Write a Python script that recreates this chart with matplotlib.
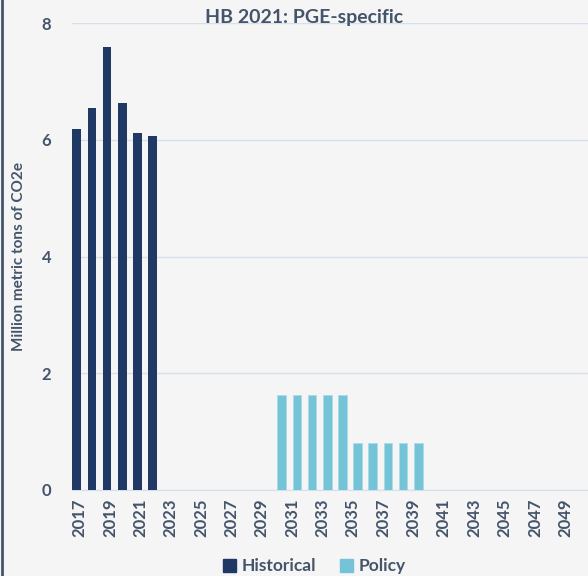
import numpy as np
import matplotlib.pyplot as plt
from matplotlib.patches import Patch

# data
years = list(range(2017, 2051))
hist_years = [2017, 2018, 2019, 2020, 2021, 2022]
hist_vals = [6.18, 6.54, 7.59, 6.63, 6.11, 6.06]
policy_years = [2030, 2031, 2032, 2033, 2034, 2035, 2036, 2037, 2038, 2039]
policy_vals = [1.63, 1.63, 1.63, 1.63, 1.63, 0.80, 0.80, 0.80, 0.80, 0.80]
tick_years = years[::2]

navy = "#203864"
light = "#74C3D7"
text_col = "#44546A"
bg = "#F5F5F5"

plt.rcParams['font.family'] = ['Lato', 'DejaVu Sans']

fig = plt.figure(figsize=(5.88, 5.76), dpi=100, facecolor=bg)
ax = fig.add_axes([72 / 588, 1 - 490 / 576, 1 - 72 / 588, 467 / 576])
ax.set_facecolor(bg)

idx = {y: i for i, y in enumerate(years)}
hx = np.array([idx[y] for y in hist_years])
px = np.array([idx[y] for y in policy_years])
ax.bar(hx - 0.19, hist_vals, width=0.57, color=navy, zorder=3)
ax.bar(px + 0.32, policy_vals, width=0.57, color=light, edgecolor="#A9DCE8",
       linewidth=0.6, zorder=3)

ax.set_xlim(-0.5, len(years) - 0.5)
ax.set_ylim(0, 8)
ax.set_yticks([0, 2, 4, 6, 8])
ax.set_xticks([idx[y] for y in tick_years])
ax.set_xticklabels([str(y) for y in tick_years], rotation=90)
ax.tick_params(axis='both', length=0, labelcolor=text_col, labelsize=12)
ax.tick_params(axis='x', pad=6)
ax.tick_params(axis='y', pad=15)
for lab in ax.get_xticklabels() + ax.get_yticklabels():
    lab.set_fontweight('bold')

ax.grid(axis='y', color="#D6E0EA", linewidth=1, zorder=0)
for s in ['top', 'right', 'left']:
    ax.spines[s].set_visible(False)
ax.spines['bottom'].set_color("#D6E0EA")

ax.set_ylabel("Million metric tons of CO2e", color=text_col, fontsize=11,
              fontweight='bold', labelpad=11)
fig.text(0.517, 0.970, "HB 2021: PGE-specific", ha='center', va='center',
         color=text_col, fontsize=14, fontweight='bold')

handles = [Patch(color=navy, label="Historical"), Patch(color=light, label="Policy")]
fig.legend(handles=handles, loc='center', bbox_to_anchor=(0.535, 0.017), ncol=2,
           frameon=False, handlelength=0.75, handleheight=0.75,
           handletextpad=0.3, columnspacing=1.4, labelcolor=text_col,
           prop={'weight': 'bold', 'size': 12.5})

# chart border on the left edge
fig.add_artist(plt.Line2D([0.003, 0.003], [0, 1], color="#44546A", linewidth=2))

fig.savefig("out.png", dpi=100, facecolor=bg)
